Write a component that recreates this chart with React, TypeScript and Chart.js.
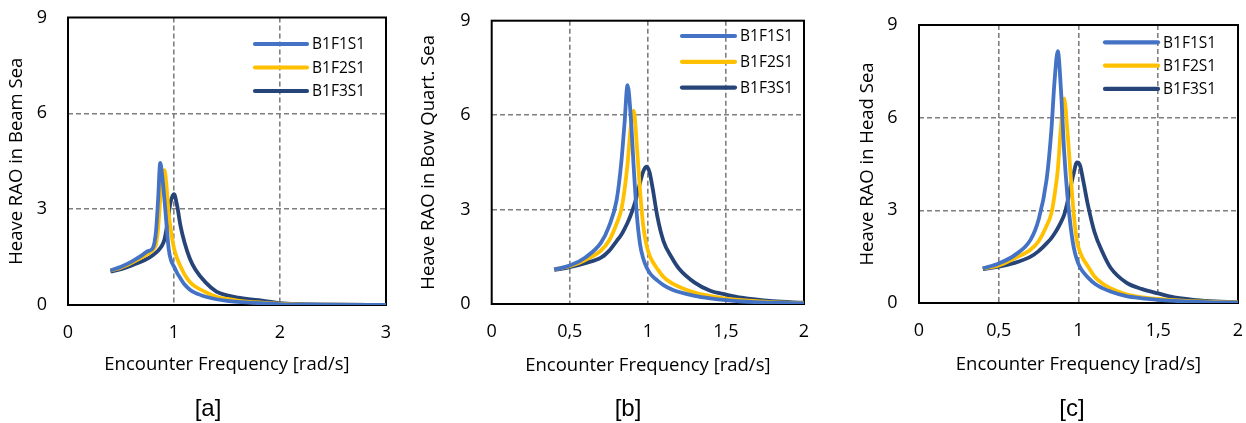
import React, { useEffect, useRef } from "react";
import { Chart, registerables } from "chart.js";

Chart.register(...registerables);

// ---------- DATA ----------
const seriesNames = ["B1F1S1", "B1F2S1", "B1F3S1"];
const seriesColors = ["#4472C4", "#FFC000", "#264478"];

const yTickValues = [0, 3, 6, 9];
const yTickLabels = ["0", "3", "6", "9"];

const xTicksBeam = [0, 1, 2, 3];
const xTickLabelsBeam = ["0", "1", "2", "3"];
const xTicksBowHead = [0, 0.5, 1, 1.5, 2];
const xTickLabelsBowHead = ["0", "0,5", "1", "1,5", "2"];

// [a] Beam Sea
const freqBeam = [0.4, 0.5, 0.6, 0.7, 0.75, 0.8, 0.83, 0.85, 0.87, 0.89, 0.91, 0.93, 0.95, 0.97, 1.0, 1.03, 1.06, 1.1, 1.15, 1.2, 1.3, 1.4, 1.5, 1.6, 1.8, 2.0, 2.2, 2.5, 3.0];
const beamF1 = [1.08, 1.2, 1.36, 1.56, 1.68, 1.78, 2.3, 3.3, 4.45, 4.0, 3.3, 2.5, 1.75, 1.42, 1.2, 1.0, 0.84, 0.64, 0.48, 0.38, 0.26, 0.18, 0.13, 0.1, 0.06, 0.03, 0.02, 0.01, 0];
const beamF2 = [1.08, 1.17, 1.32, 1.5, 1.6, 1.72, 1.9, 2.4, 3.3, 4.0, 4.22, 3.7, 2.85, 2.35, 1.78, 1.45, 1.22, 0.95, 0.72, 0.58, 0.4, 0.26, 0.19, 0.14, 0.08, 0.04, 0.02, 0.01, 0];
const beamF3 = [1.05, 1.12, 1.24, 1.37, 1.45, 1.56, 1.64, 1.7, 1.78, 1.88, 2.05, 2.4, 2.85, 3.25, 3.47, 3.1, 2.5, 1.95, 1.45, 1.12, 0.7, 0.42, 0.3, 0.23, 0.15, 0.06, 0.03, 0.01, 0];

// [b] Bow Quartering Sea
const freqBow = [0.4, 0.5, 0.6, 0.7, 0.75, 0.8, 0.83, 0.85, 0.87, 0.89, 0.91, 0.93, 0.95, 0.97, 0.99, 1.01, 1.03, 1.06, 1.1, 1.15, 1.2, 1.3, 1.4, 1.5, 1.6, 1.8, 2.0];
const bowF1 = [1.1, 1.22, 1.48, 1.95, 2.45, 3.3, 4.5, 5.7, 6.95, 6.0, 4.3, 2.8, 1.9, 1.45, 1.18, 1.0, 0.88, 0.75, 0.6, 0.47, 0.38, 0.26, 0.18, 0.12, 0.08, 0.04, 0.02];
const bowF2 = [1.1, 1.2, 1.4, 1.7, 2.0, 2.55, 3.0, 3.6, 4.45, 5.6, 6.14, 5.0, 3.6, 2.5, 1.9, 1.55, 1.35, 1.12, 0.86, 0.67, 0.55, 0.36, 0.25, 0.17, 0.12, 0.06, 0.03];
const bowF3 = [1.08, 1.17, 1.3, 1.47, 1.68, 2.0, 2.2, 2.38, 2.58, 2.82, 3.1, 3.45, 3.85, 4.2, 4.36, 4.2, 3.7, 2.8, 2.0, 1.5, 1.12, 0.68, 0.42, 0.3, 0.2, 0.09, 0.04];

// [c] Head Sea
const freqHead = [0.4, 0.5, 0.6, 0.7, 0.75, 0.8, 0.83, 0.85, 0.87, 0.89, 0.91, 0.93, 0.95, 0.97, 0.99, 1.01, 1.03, 1.06, 1.1, 1.15, 1.2, 1.3, 1.4, 1.5, 1.6, 1.8, 2.0];
const headF1 = [1.12, 1.28, 1.55, 2.05, 2.7, 4.0, 5.6, 7.2, 8.15, 6.9, 4.9, 3.5, 2.5, 1.8, 1.4, 1.15, 1.0, 0.82, 0.63, 0.48, 0.37, 0.22, 0.15, 0.1, 0.07, 0.03, 0.01];
const headF2 = [1.12, 1.22, 1.45, 1.73, 2.0, 2.5, 2.9, 3.5, 4.3, 5.7, 6.62, 5.6, 4.2, 2.9, 2.0, 1.65, 1.42, 1.18, 0.86, 0.63, 0.48, 0.28, 0.18, 0.13, 0.09, 0.04, 0.02];
const headF3 = [1.1, 1.18, 1.3, 1.5, 1.68, 1.93, 2.1, 2.25, 2.42, 2.62, 2.85, 3.25, 3.75, 4.2, 4.55, 4.45, 3.95, 3.15, 2.3, 1.65, 1.15, 0.66, 0.45, 0.31, 0.18, 0.07, 0.02];

const xTitle = "Encounter Frequency [rad/s]";

// ---------- STYLE / LAYOUT ----------
const FONT = "'Open Sans'";
const TICK_SIZE = 18;
const TITLE_SIZE = 18.5;
const LEGEND_SIZE = 15.5;
const TEXT_COLOR = "#000000";
const H = 423;

type Layout = {
  x0: number; w: number;
  area: [number, number, number, number];
  yTickRight: number; yTitleX: number; xTickY: number; xTitleY: number;
  legend: { lineStart: number; lineEnd: number; textX: number; y0: number; dy: number };
  caption: number;
};

const layouts: Layout[] = [
  { x0: 0, w: 415, area: [68, 17.5, 386, 305], yTickRight: 47, yTitleX: 17, xTickY: 333, xTitleY: 365,
    legend: { lineStart: 255, lineEnd: 307, textX: 312, y0: 44, dy: 23.5 }, caption: 208 },
  { x0: 415, w: 415, area: [491.7, 20.7, 804, 304], yTickRight: 470.5, yTitleX: 429, xTickY: 332, xTitleY: 366,
    legend: { lineStart: 682, lineEnd: 735, textX: 740, y0: 36, dy: 25.8 }, caption: 628 },
  { x0: 830, w: 416, area: [919, 25, 1238, 303], yTickRight: 897.5, yTitleX: 868, xTickY: 331, xTitleY: 365,
    legend: { lineStart: 1105, lineEnd: 1158, textX: 1163, y0: 42.3, dy: 23.3 }, caption: 1072 },
];

type PanelProps = {
  layout: Layout;
  freq: number[];
  series: number[][];
  xMax: number;
  xTicks: number[];
  xTickLabels: string[];
  yTitle: string;
  caption: string;
};

function Panel({ layout, freq, series, xMax, xTicks, xTickLabels, yTitle, caption }: PanelProps) {
  const ref = useRef<HTMLCanvasElement | null>(null);

  useEffect(() => {
    if (!ref.current) return;
    const x0 = layout.x0;
    const [L, T, R, B] = [layout.area[0] - x0, layout.area[1], layout.area[2] - x0, layout.area[3]];
    const titleLH = TITLE_SIZE * 1.2;
    const tickLH = TICK_SIZE * 1.2;
    const padLeft = layout.yTitleX - x0 - titleLH / 2;
    const yAxisWidth = L - padLeft;
    const yTickPad = L - (layout.yTickRight - x0);
    const xTickPad = layout.xTickY - B - tickLH / 2;
    const xScaleBottom = layout.xTitleY + titleLH / 2;
    const xAxisHeight = xScaleBottom - B;
    const padBottom = H - xScaleBottom;
    const padRight = layout.w - R;

    const gridColor = (min: number, max: number) => (ctx: any) => {
      const v = ctx.tick ? ctx.tick.value : null;
      if (v === null || v <= min + 1e-9 || v >= max - 1e-9) return "rgba(0,0,0,0)";
      return "#7f7f7f";
    };

    const zeroPad = (scale: any) => {
      scale.paddingTop = 0;
      scale.paddingBottom = 0;
      scale.paddingLeft = 0;
      scale.paddingRight = 0;
    };

    const boxPlugin = {
      id: "boxAndLegend",
      beforeDatasetsDraw(chart: any) {
        const { ctx, chartArea } = chart;
        ctx.save();
        ctx.strokeStyle = "#000000";
        ctx.lineWidth = 2;
        ctx.strokeRect(chartArea.left, chartArea.top, chartArea.right - chartArea.left, chartArea.bottom - chartArea.top);
        ctx.restore();
      },
      afterDraw(chart: any) {
        const { ctx } = chart;
        const lg = layout.legend;
        ctx.save();
        chart.data.datasets.forEach((ds: any, i: number) => {
          const y = lg.y0 + i * lg.dy;
          ctx.strokeStyle = ds.borderColor;
          ctx.lineWidth = 4.2;
          ctx.lineCap = "round";
          ctx.beginPath();
          ctx.moveTo(lg.lineStart - x0, y);
          ctx.lineTo(lg.lineEnd - x0, y);
          ctx.stroke();
          ctx.fillStyle = TEXT_COLOR;
          ctx.font = `${LEGEND_SIZE}px ${FONT}`;
          ctx.textBaseline = "middle";
          ctx.textAlign = "left";
          ctx.fillText(ds.label, lg.textX - x0, y + 1);
        });
        ctx.restore();
      },
    };

    const chart = new Chart(ref.current, {
      type: "line",
      data: {
        datasets: series.map((vals, i) => ({
          label: seriesNames[i],
          data: freq.map((f, k) => ({ x: f, y: vals[k] })),
          borderColor: seriesColors[i],
          backgroundColor: seriesColors[i],
          borderWidth: 3.8,
          pointRadius: 0,
          cubicInterpolationMode: "monotone" as const,
          fill: false,
        })),
      },
      options: {
        animation: false,
        responsive: false,
        maintainAspectRatio: false,
        layout: { padding: { left: padLeft, top: T, right: padRight, bottom: padBottom } },
        plugins: { legend: { display: false }, tooltip: { enabled: false } },
        scales: {
          x: {
            type: "linear",
            min: 0,
            max: xMax,
            afterBuildTicks: (scale: any) => {
              scale.ticks = xTicks.map((v) => ({ value: v }));
            },
            afterFit: (scale: any) => {
              scale.height = xAxisHeight;
              zeroPad(scale);
            },
            ticks: {
              padding: xTickPad,
              color: TEXT_COLOR,
              font: { family: FONT, size: TICK_SIZE },
              maxRotation: 0,
              autoSkip: false,
              callback: (v: any) => {
                const idx = xTicks.indexOf(Number(v));
                return idx >= 0 ? xTickLabels[idx] : "";
              },
            },
            grid: { color: gridColor(0, xMax), lineWidth: 1.6, drawTicks: false },
            border: { display: false, dash: [5, 3] },
            title: {
              display: true,
              text: xTitle,
              color: TEXT_COLOR,
              font: { family: FONT, size: TITLE_SIZE },
              padding: { top: 0, bottom: 0 },
            },
          },
          y: {
            type: "linear",
            min: 0,
            max: 9,
            afterBuildTicks: (scale: any) => {
              scale.ticks = yTickValues.map((v) => ({ value: v }));
            },
            afterFit: (scale: any) => {
              scale.width = yAxisWidth;
              zeroPad(scale);
            },
            ticks: {
              padding: yTickPad,
              color: TEXT_COLOR,
              font: { family: FONT, size: TICK_SIZE },
              callback: (v: any) => {
                const idx = yTickValues.indexOf(Number(v));
                return idx >= 0 ? yTickLabels[idx] : "";
              },
            },
            grid: { color: gridColor(0, 9), lineWidth: 1.6, drawTicks: false },
            border: { display: false, dash: [5, 3] },
            title: {
              display: true,
              text: yTitle,
              color: TEXT_COLOR,
              font: { family: FONT, size: TITLE_SIZE },
              padding: { top: 0, bottom: 0 },
            },
          },
        },
      },
      plugins: [boxPlugin],
    });
    return () => chart.destroy();
  }, []);

  return (
    <>
      <canvas
        ref={ref}
        width={layout.w}
        height={H}
        style={{ position: "absolute", left: layout.x0, top: 0, width: layout.w, height: H }}
      />
      <div
        style={{
          position: "absolute",
          left: layout.caption - 60,
          width: 120,
          top: 394,
          lineHeight: "28px",
          textAlign: "center",
          fontFamily: "'Liberation Sans', Arial, sans-serif",
          fontSize: 24,
          color: "#000",
        }}
      >
        {caption}
      </div>
    </>
  );
}

export default function App() {
  return (
    <div style={{ position: "absolute", left: 0, top: 0, width: 1246, height: H, background: "#fff", overflow: "hidden" }}>
      <Panel layout={layouts[0]} freq={freqBeam} series={[beamF1, beamF2, beamF3]} xMax={3}
        xTicks={xTicksBeam} xTickLabels={xTickLabelsBeam} yTitle="Heave RAO in Beam Sea" caption="[a]" />
      <Panel layout={layouts[1]} freq={freqBow} series={[bowF1, bowF2, bowF3]} xMax={2}
        xTicks={xTicksBowHead} xTickLabels={xTickLabelsBowHead} yTitle="Heave RAO in Bow Quart. Sea" caption="[b]" />
      <Panel layout={layouts[2]} freq={freqHead} series={[headF1, headF2, headF3]} xMax={2}
        xTicks={xTicksBowHead} xTickLabels={xTickLabelsBowHead} yTitle="Heave RAO in Head Sea" caption="[c]" />
    </div>
  );
}
